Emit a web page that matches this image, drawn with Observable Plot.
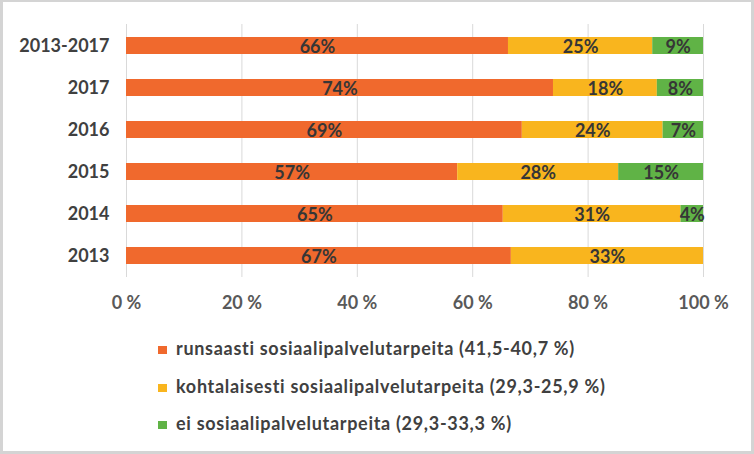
<!DOCTYPE html>
<html>
<head>
<meta charset="utf-8">
<script src="https://cdn.jsdelivr.net/npm/d3@7"></script>
<script src="https://cdn.jsdelivr.net/npm/@observablehq/plot@0.6"></script>
<style>
  html, body { margin: 0; padding: 0; background: #fff; }
  #wrap { position: relative; width: 754px; height: 454px; overflow: hidden; font-family: Lato, sans-serif; }
  #wrap svg { position: absolute; left: 0; top: 0; }
  #frame { position: absolute; left: 0; top: 0; width: 754px; height: 454px; box-sizing: border-box;
           border-style: solid; border-color: #d4d4d4; border-width: 2px 3px 3px 3px; pointer-events: none; }
  .leg { position: absolute; left: 158px; font: bold 18px Lato, sans-serif; color: #404040; white-space: nowrap; letter-spacing: 0.7px; }
  .leg span.sw { display: inline-block; width: 9px; height: 8px; margin-right: 9px; vertical-align: 1px; }
</style>
</head>
<body>
<div id="wrap"><div id="frame"></div></div>
<script>
const years = ["2013-2017", "2017", "2016", "2015", "2014", "2013"];
const runsaasti = [66.2, 74.0, 68.6, 57.4, 65.3, 66.7];
const kohtalaisesti = [25.0, 18.0, 24.4, 27.9, 30.8, 33.3];
const ei = [8.8, 8.0, 7.0, 14.7, 3.9, 0];
const seriesNames = [
  "runsaasti sosiaalipalvelutarpeita (41,5-40,7 %)",
  "kohtalaisesti sosiaalipalvelutarpeita (29,3-25,9 %)",
  "ei sosiaalipalvelutarpeita (29,3-33,3 %)"
];
const colors = ["#F0692D", "#F9B51E", "#60B346"];
const xTicks = [0, 20, 40, 60, 80, 100];

const seriesValues = [runsaasti, kohtalaisesti, ei];
const data = [];
years.forEach((y, i) => seriesValues.forEach((vals, s) => data.push({year: y, series: seriesNames[s], value: vals[i]})));

const chart = Plot.plot({
  width: 754,
  height: 330,
  marginLeft: 126,
  marginRight: 51,
  marginTop: 24,
  marginBottom: 53,
  style: {fontFamily: "Lato, sans-serif", fontWeight: "bold", fontSize: "18px", color: "#404040", background: "transparent"},
  x: {domain: [0, 100], ticks: xTicks, tickFormat: d => d + " %", tickSize: 0, tickPadding: 19, label: null},
  y: {domain: years, paddingInner: 0.6, paddingOuter: 0.31, tickSize: 0, tickPadding: 17, label: null},
  color: {domain: seriesNames, range: colors},
  marks: [
    Plot.gridX(xTicks, {stroke: "#d9d9d9", strokeOpacity: 1}),
    Plot.barX(data, Plot.stackX({y: "year", x: "value", fill: "series", order: seriesNames})),
    Plot.text(data.filter(d => d.value > 0), Plot.stackX({y: "year", x: "value", z: "series", order: seriesNames,
      text: d => Math.round(d.value) + "%", fill: "#363636", fontSize: 18, fontWeight: "bold", dy: 1})),
    Plot.axisX({ticks: xTicks, tickFormat: d => d + " %", tickSize: 0, tickPadding: 19, fill: "#595959", label: null}),
    Plot.axisY({tickSize: 0, tickPadding: 17, fill: "#404040", label: null})
  ]
});
const wrap = document.getElementById("wrap");
wrap.insertBefore(chart, wrap.firstChild);

const tops = [337, 375, 412];
seriesNames.forEach((name, i) => {
  const d = document.createElement("div");
  d.className = "leg";
  d.style.top = tops[i] + "px";
  d.innerHTML = `<span class="sw" style="background:${colors[i]}"></span>`;
  d.appendChild(document.createTextNode(name));
  wrap.appendChild(d);
});
</script>
</body>
</html>
